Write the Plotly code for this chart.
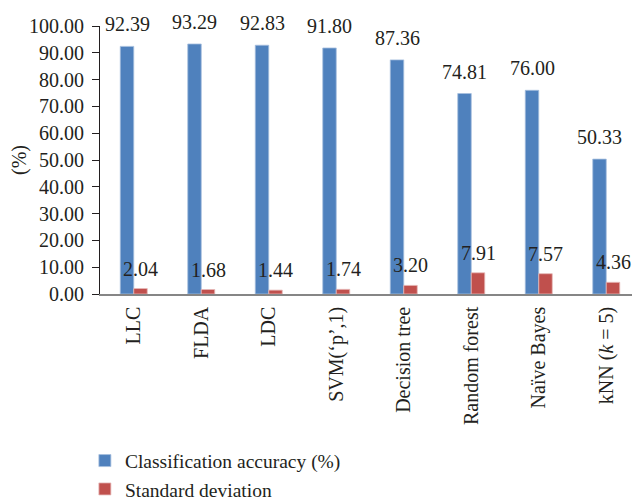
import plotly.graph_objects as go

categories = ["LLC", "FLDA", "LDC", "SVM(‘p’,1)", "Decision tree",
              "Random forest", "Naïve Bayes", "kNN (<i>k</i> = 5)"]
accuracy = [92.39, 93.29, 92.83, 91.80, 87.36, 74.81, 76.00, 50.33]
std_dev = [2.04, 1.68, 1.44, 1.74, 3.20, 7.91, 7.57, 4.36]
y_ticks = [0, 10, 20, 30, 40, 50, 60, 70, 80, 90, 100]

FONT = "Liberation Serif"
BLUE = "#4F81BD"
RED = "#C0504D"

fig = go.Figure()
fig.add_trace(go.Bar(name="Classification accuracy (%)", x=categories, y=accuracy,
                     marker=dict(color=BLUE, line=dict(color="#A7BFDE", width=0.8))))
fig.add_trace(go.Bar(name="Standard deviation", x=categories, y=std_dev,
                     marker=dict(color=RED, line=dict(color="#E6B9B8", width=0.8))))

n = len(categories)
off = 0.1  # half of a single bar width in category units
for i in range(n):
    fig.add_annotation(x=i - off, y=accuracy[i], xref="x", yref="y",
                       text=f"{accuracy[i]:.2f}", showarrow=False,
                       yanchor="middle", yshift=22,
                       font=dict(family=FONT, size=20, color="#231F20"))
    fig.add_annotation(x=i + off, y=std_dev[i], xref="x", yref="y",
                       text=f"{std_dev[i]:.2f}", showarrow=False,
                       yanchor="middle", yshift=20,
                       font=dict(family=FONT, size=20, color="#231F20"))

fig.update_layout(
    width=632, height=494,
    margin=dict(l=92, r=0, t=18, b=208, autoexpand=False),
    paper_bgcolor="white", plot_bgcolor="white",
    barmode="group", bargap=0.6, bargroupgap=0,
    font=dict(family=FONT, size=20, color="#231F20"),
    showlegend=True,
    legend=dict(x=-0.028, y=-0.55, xanchor="left", yanchor="top",
                orientation="v", font=dict(family=FONT, size=19.5),
                bgcolor="rgba(0,0,0,0)", itemwidth=30),
)
fig.update_xaxes(type="category", tickangle=-90, showline=True, linecolor="#868686",
                 linewidth=1.5, ticks="", showgrid=False,
                 tickfont=dict(family=FONT, size=20), ticklabelstandoff=3,
                 range=[-0.5, n - 0.5])
fig.update_yaxes(range=[0, 100], tickvals=y_ticks,
                 ticktext=[f"{v:.2f}" for v in y_ticks],
                 showline=True, linecolor="#231F20", linewidth=1,
                 ticks="outside", ticklen=7, tickcolor="#231F20",
                 showgrid=False, zeroline=False,
                 tickfont=dict(family=FONT, size=20), ticklabelstandoff=4,
                 title=dict(text="(%)", font=dict(family=FONT, size=20), standoff=4))

fig.write_html("out.html")
